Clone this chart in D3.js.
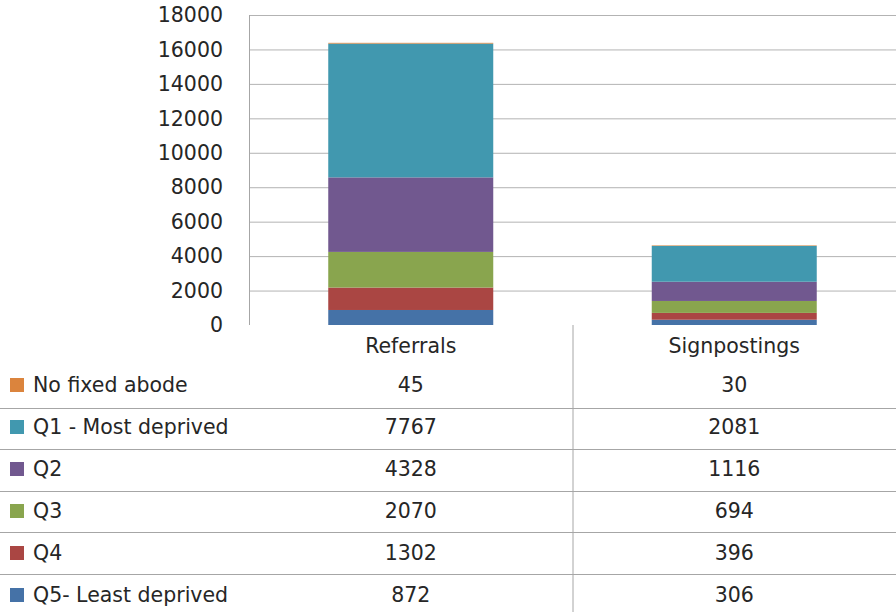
<!DOCTYPE html>
<meta charset="utf-8">
<style>
body { margin: 0; background: #fff; }
text { font-family: "DejaVu Sans", "Liberation Sans", sans-serif; fill: #262626; }
.grid line { stroke: #b3b3b3; stroke-width: 1; }
.grid path { display: none; }
.tbl line { stroke: #a6a6a6; stroke-width: 1; }
</style>
<body>
<div id="chart"></div>
<script src="https://d3js.org/d3.v7.min.js"></script>
<script>

var categories = ["Referrals", "Signpostings"];
// bottom to top of the stack
var series = ["Q5- Least deprived", "Q4", "Q3", "Q2", "Q1 - Most deprived", "No fixed abode"];
var referrals = [872, 1302, 2070, 4328, 7767, 45];
var signpostings = [306, 396, 694, 1116, 2081, 30];
var yTicks = [0, 2000, 4000, 6000, 8000, 10000, 12000, 14000, 16000, 18000];
var colors = ["#4572a7", "#aa4643", "#89a54e", "#71588f", "#4198af", "#db843d"];

var width = 896, height = 612;
var plot = {left: 249, right: 896, top: 15, bottom: 325};
var rowH = 41.5, tableTop = 366;
var textTop = 385, textStep = 42;
var fs = "20.5px";

var rows = categories.map(function(c, i) {
  var vals = i === 0 ? referrals : signpostings;
  var r = {cat: c};
  series.forEach(function(s, j) { r[s] = vals[j]; });
  return r;
});

var svg = d3.select("#chart").append("svg")
    .attr("width", width)
    .attr("height", height);

var x = d3.scaleBand()
    .domain(categories)
    .range([plot.left, plot.right])
    .paddingInner(0)
    .paddingOuter(0);

var y = d3.scaleLinear()
    .domain([0, 18000])
    .range([plot.bottom, plot.top]);

var color = d3.scaleOrdinal().domain(series).range(colors);

// gridlines
svg.append("g")
    .attr("class", "grid")
    .attr("transform", "translate(" + plot.left + ",0)")
    .call(d3.axisLeft(y).tickValues(yTicks.slice(1)).tickSize(-(plot.right - plot.left)).tickFormat(""));

// left axis line
svg.append("line")
    .attr("x1", plot.left + 0.5).attr("x2", plot.left + 0.5)
    .attr("y1", plot.top).attr("y2", plot.bottom)
    .attr("stroke", "#a6a6a6");

// tick labels
svg.append("g").selectAll("text")
  .data(yTicks)
  .enter().append("text")
    .attr("x", 223)
    .attr("y", function(d) { return y(d); })
    .attr("dy", "0.35em")
    .attr("text-anchor", "end")
    .style("font-size", fs)
    .text(function(d) { return d; });

// stacked bars
var stacked = d3.stack().keys(series)(rows);
var barW = 165;

svg.append("g").selectAll("g")
  .data(stacked)
  .enter().append("g")
    .attr("fill", function(d) { return color(d.key); })
  .selectAll("rect")
  .data(function(d) { return d; })
  .enter().append("rect")
    .attr("x", function(d) { return x(d.data.cat) + x.bandwidth() / 2 - barW / 2; })
    .attr("width", barW)
    .attr("y", function(d) { return y(d[1]); })
    .attr("height", function(d) { return y(d[0]) - y(d[1]); });

// category labels
svg.append("g").selectAll("text")
  .data(categories)
  .enter().append("text")
    .attr("x", function(d) { return x(d) + x.bandwidth() / 2; })
    .attr("y", 346)
    .attr("dy", "0.35em")
    .attr("text-anchor", "middle")
    .style("font-size", fs)
    .text(function(d) { return d; });

// data table
var tbl = svg.append("g").attr("class", "tbl");
var tableSeries = series.slice().reverse();

tbl.append("line")
    .attr("x1", x(categories[1]) + 0.5).attr("x2", x(categories[1]) + 0.5)
    .attr("y1", plot.bottom).attr("y2", height);

tbl.selectAll("line.h")
  .data(tableSeries.slice(1))
  .enter().append("line")
    .attr("class", "h")
    .attr("x1", 0).attr("x2", width)
    .attr("y1", function(d, i) { return Math.round(tableTop + (i + 1) * rowH) + 0.5; })
    .attr("y2", function(d, i) { return Math.round(tableTop + (i + 1) * rowH) + 0.5; });

var row = tbl.selectAll("g.row")
  .data(tableSeries)
  .enter().append("g")
    .attr("class", "row")
    .attr("transform", function(d, i) { return "translate(0," + (textTop + i * textStep) + ")"; });

row.append("rect")
    .attr("x", 10).attr("y", -7)
    .attr("width", 14).attr("height", 14)
    .attr("fill", function(d) { return color(d); });

row.append("text")
    .attr("x", 33)
    .attr("dy", "0.35em")
    .style("font-size", fs)
    .text(function(d) { return d; });

row.selectAll("text.val")
  .data(function(s) { return rows.map(function(r) { return {cat: r.cat, v: r[s]}; }); })
  .enter().append("text")
    .attr("class", "val")
    .attr("x", function(d) { return x(d.cat) + x.bandwidth() / 2; })
    .attr("dy", "0.35em")
    .attr("text-anchor", "middle")
    .style("font-size", fs)
    .text(function(d) { return d.v; });

</script>
</body>
